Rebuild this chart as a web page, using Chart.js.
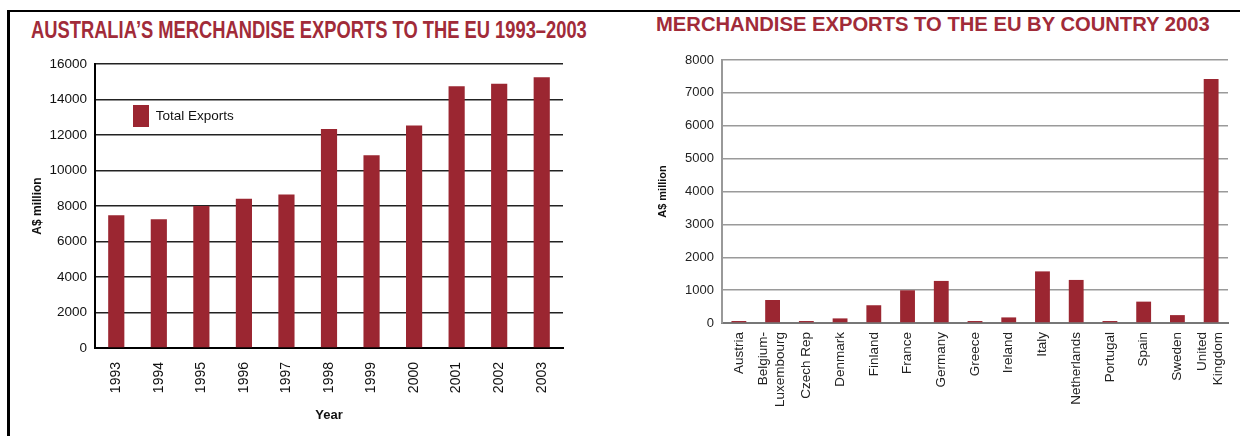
<!DOCTYPE html>
<html>
<head>
<meta charset="utf-8">
<script src="https://cdn.jsdelivr.net/npm/chart.js@4/dist/chart.umd.min.js"></script>
<style>
  html, body { margin: 0; padding: 0; background: #fff; }
  body { width: 1240px; height: 436px; position: relative; overflow: hidden; font-family: 'Liberation Sans', Arial, sans-serif; }
  #frame { position: absolute; left: 7px; top: 10px; right: -4px; bottom: -4px; border-top: 2px solid #000; border-left: 3px solid #000; }
  .panel { position: absolute; top: 0; width: 620px; height: 436px; }
  .panel canvas { position: absolute; left: 0; top: 0; }
  .title { position: absolute; margin: 0; font-weight: bold; color: #a12b39; white-space: nowrap; transform-origin: 0 0; }
</style>
</head>
<body>
<div id="frame"></div>
<div class="panel" style="left:0">
  <h1 class="title" id="title1" style="left:31px;top:18px;font-size:24px;line-height:24px">AUSTRALIA’S MERCHANDISE EXPORTS TO THE EU 1993–2003</h1>
  <canvas id="year-chart" width="620" height="436"></canvas>
</div>
<div class="panel" style="left:620px">
  <h1 class="title" id="title2" style="left:36px;top:13px;font-size:21px;line-height:21px">MERCHANDISE EXPORTS TO THE EU BY COUNTRY 2003</h1>
  <canvas id="country-chart" width="620" height="436"></canvas>
</div>
<script>
// Data (A$ million)
const years = ['1993', '1994', '1995', '1996', '1997', '1998', '1999', '2000', '2001', '2002', '2003'];
const totalExports = [7480, 7260, 8000, 8410, 8650, 12340, 10860, 12530, 14750, 14890, 15250];

const countries = ['Austria', ['Belgium-', 'Luxembourg'], 'Czech Rep', 'Denmark', 'Finland', 'France',
  'Germany', 'Greece', 'Ireland', 'Italy', 'Netherlands', 'Portugal', 'Spain', 'Sweden', ['United', 'Kingdom']];
const countryExports = [60, 700, 60, 140, 540, 995, 1280, 60, 170, 1570, 1310, 60, 650, 240, 7420];

const yearTicks = [0, 2000, 4000, 6000, 8000, 10000, 12000, 14000, 16000];
const countryTicks = [0, 1000, 2000, 3000, 4000, 5000, 6000, 7000, 8000];

const BAR_RED = '#9b2631';
const FONT = "'Liberation Sans', Arial, sans-serif";

// squeeze the headings to the width they have in the print
function fitTitle(id, width) {
  const el = document.getElementById(id);
  el.style.transform = 'scaleX(' + (width / el.offsetWidth) + ')';
}
fitTitle('title1', 556);
fitTitle('title2', 554);

function plainNumber(v) { return String(v); }

// no extra room for overhanging labels, the plot box is fixed
function noOverhang(s) {
  s.paddingLeft = 0;
  s.paddingRight = 0;
  s.paddingTop = 0;
  s.paddingBottom = 0;
}

// legend 'chartArea' gets top = 0, put it back inside the plot
const legendInside = {
  id: 'legendInside',
  afterLayout: function(chart) {
    const lg = chart.legend;
    if (!lg || !lg.options.display) return;
    const h = lg.bottom - lg.top;
    lg.top = chart.chartArea.top + 3;
    lg.bottom = lg.top + h;
  },
};

new Chart(document.getElementById('year-chart'), {
  type: 'bar',
  data: {
    labels: years,
    datasets: [{
      label: 'Total Exports',
      data: totalExports,
      backgroundColor: BAR_RED,
      barPercentage: 0.38,
      categoryPercentage: 1,
    }],
  },
  options: {
    responsive: false,
    animation: false,
    layout: { padding: { left: 30, right: 57, top: 64, bottom: 8 } },
    scales: {
      x: {
        afterFit: function(s) { s.height = 80; noOverhang(s); },
        grid: { display: false, drawTicks: false },
        border: { color: '#000', width: 2 },
        ticks: { color: '#111', font: { family: FONT, size: 14 }, minRotation: 90, maxRotation: 90, padding: 14 },
        title: { display: true, text: 'Year', color: '#111', font: { family: FONT, size: 13, weight: 'bold' }, padding: { top: 0, bottom: 5 } },
      },
      y: {
        min: 0,
        max: 16000,
        afterFit: function(s) { s.width = 65; noOverhang(s); },
        afterBuildTicks: function(s) { s.ticks = yearTicks.map(function(v) { return { value: v }; }); },
        grid: { color: '#222', lineWidth: 1.5, drawTicks: false },
        border: { color: '#000', width: 2 },
        ticks: { color: '#111', font: { family: FONT, size: 13.5 }, padding: 8, callback: plainNumber },
        title: { display: true, text: 'A$ million', color: '#111', font: { family: FONT, size: 12, weight: 'bold' }, padding: 0 },
      },
    },
    plugins: {
      legend: {
        display: true,
        position: 'chartArea',
        align: 'start',
        labels: { boxWidth: 16, boxHeight: 22, padding: 38, color: '#111', font: { family: FONT, size: 13.5 } },
      },
      tooltip: { enabled: false },
    },
  },
  plugins: [legendInside],
});

// single-line country names on the main axis, two-line ones on an overlaid
// axis shifted half a line left so the pair sits centred under the bar
function isTwoLine(i) { return Array.isArray(countries[i]); }

const countryTickFont = { family: FONT, size: 13.5 };

new Chart(document.getElementById('country-chart'), {
  type: 'bar',
  data: {
    labels: countries,
    datasets: [{
      label: 'Exports 2003',
      data: countryExports,
      backgroundColor: BAR_RED,
      barPercentage: 0.44,
      categoryPercentage: 1,
    }],
  },
  options: {
    responsive: false,
    animation: false,
    layout: { padding: { left: 36, right: 12, top: 60, bottom: 10 } },
    scales: {
      x: {
        afterFit: function(s) { s.height = 103; noOverhang(s); },
        grid: { display: false, drawTicks: false },
        border: { color: '#777', width: 2 },
        ticks: {
          color: '#222', font: countryTickFont, minRotation: 90, maxRotation: 90, autoSkip: false, padding: 9,
          callback: function(v, i) { return isTwoLine(i) ? '' : countries[i]; },
        },
      },
      x2: {
        type: 'category',
        axis: 'x',
        position: { y: 0 },
        afterFit: noOverhang,
        grid: { display: false, drawTicks: false },
        border: { display: false },
        ticks: {
          color: '#222', font: countryTickFont, minRotation: 90, maxRotation: 90, autoSkip: false, padding: 9,
          labelOffset: -9,
          callback: function(v, i) { return isTwoLine(i) ? countries[i] : ''; },
        },
      },
      y: {
        min: 0,
        max: 8000,
        afterFit: function(s) { s.width = 66; noOverhang(s); },
        afterBuildTicks: function(s) { s.ticks = countryTicks.map(function(v) { return { value: v }; }); },
        grid: { color: '#9a9a9a', lineWidth: 1.5, drawTicks: false },
        border: { color: '#999', width: 2 },
        ticks: { color: '#222', font: { family: FONT, size: 13 }, padding: 8, callback: plainNumber },
        title: { display: true, text: 'A$ million', color: '#111', font: { family: FONT, size: 11, weight: 'bold' }, padding: 0 },
      },
    },
    plugins: {
      legend: { display: false },
      tooltip: { enabled: false },
    },
  },
});
</script>
</body>
</html>
